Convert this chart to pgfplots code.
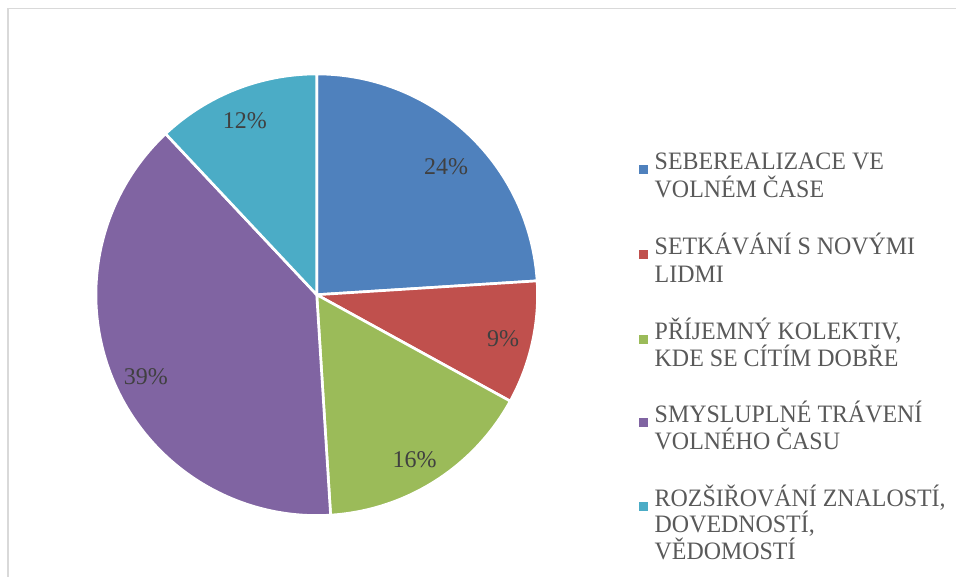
\documentclass[border=0pt]{standalone}
\usepackage{pgfplots}
\pgfplotsset{compat=1.18}
\usepackage{fontspec}
\setmainfont{Liberation Serif}
\definecolor{cA}{HTML}{4F81BD}
\definecolor{cB}{HTML}{C0504D}
\definecolor{cC}{HTML}{9BBB59}
\definecolor{cD}{HTML}{8064A2}
\definecolor{cE}{HTML}{4BACC6}
\definecolor{legtxt}{HTML}{595959}
\definecolor{labtxt}{HTML}{404040}
\definecolor{frameclr}{HTML}{D9D9D9}
\begin{document}
\begin{tikzpicture}
\begin{axis}[
  scale only axis, width=717.75pt, height=432.75pt,
  xmin=0, xmax=957, ymin=0, ymax=577,
  hide axis, clip=false,
  wedge/.style={draw=white, line width=2pt, line join=round, samples=90, smooth},
]
\path (axis cs:0,0) (axis cs:957,577);
\draw[frameclr, line width=1.2pt] (axis cs:8,0) -- (axis cs:8,568.5) -- (axis cs:957,568.5);
% cumulative percentages: 24, 9, 16, 39, 12
\addplot[wedge, fill=cA, domain=0:24]  ({317+221*cos(90-3.6*x)},{282+221*sin(90-3.6*x)}) -- (axis cs:317,282) -- cycle;
\addplot[wedge, fill=cB, domain=24:33] ({317+221*cos(90-3.6*x)},{282+221*sin(90-3.6*x)}) -- (axis cs:317,282) -- cycle;
\addplot[wedge, fill=cC, domain=33:49] ({317+221*cos(90-3.6*x)},{282+221*sin(90-3.6*x)}) -- (axis cs:317,282) -- cycle;
\addplot[wedge, fill=cD, domain=49:88] ({317+221*cos(90-3.6*x)},{282+221*sin(90-3.6*x)}) -- (axis cs:317,282) -- cycle;
\addplot[wedge, fill=cE, domain=88:100]({317+221*cos(90-3.6*x)},{282+221*sin(90-3.6*x)}) -- (axis cs:317,282) -- cycle;
% data labels
\begin{scope}[every node/.style={anchor=base, text=labtxt, font=\fontsize{18}{20}\selectfont, inner sep=0pt}]
\node at (axis cs:446.5,402) {24\%};
\node at (axis cs:503.5,230) {9\%};
\node at (axis cs:415,109) {16\%};
\node at (axis cs:146,192) {39\%};
\node at (axis cs:245,448) {12\%};
\end{scope}
% legend
\begin{scope}[every node/.style={anchor=base west, text=legtxt, font=\fontsize{18.8}{22}\selectfont, inner sep=0pt, xscale=0.955}]
\fill[cA] (axis cs:640,402.5) rectangle (axis cs:649,411.5);
\node at (axis cs:655,407) {SEBEREALIZACE VE};
\node at (axis cs:655,379) {VOLNÉM ČASE};
\fill[cB] (axis cs:640,317.5) rectangle (axis cs:649,326.5);
\node at (axis cs:655,322) {SETKÁVÁNÍ S NOVÝMI};
\node at (axis cs:655,294) {LIDMI};
\fill[cC] (axis cs:640,232.5) rectangle (axis cs:649,241.5);
\node at (axis cs:655,237) {PŘÍJEMNÝ KOLEKTIV,};
\node at (axis cs:655,210) {KDE SE CÍTÍM DOBŘE};
\fill[cD] (axis cs:640,149.5) rectangle (axis cs:649,158.5);
\node at (axis cs:655,154) {SMYSLUPLNÉ TRÁVENÍ};
\node at (axis cs:655,127) {VOLNÉHO ČASU};
\fill[cE] (axis cs:640,65.5) rectangle (axis cs:649,74.5);
\node at (axis cs:655,70) {ROZŠIŘOVÁNÍ ZNALOSTÍ,};
\node at (axis cs:655,44) {DOVEDNOSTÍ,};
\node at (axis cs:655,17) {VĚDOMOSTÍ};
\end{scope}
\end{axis}
\end{tikzpicture}
\end{document}
